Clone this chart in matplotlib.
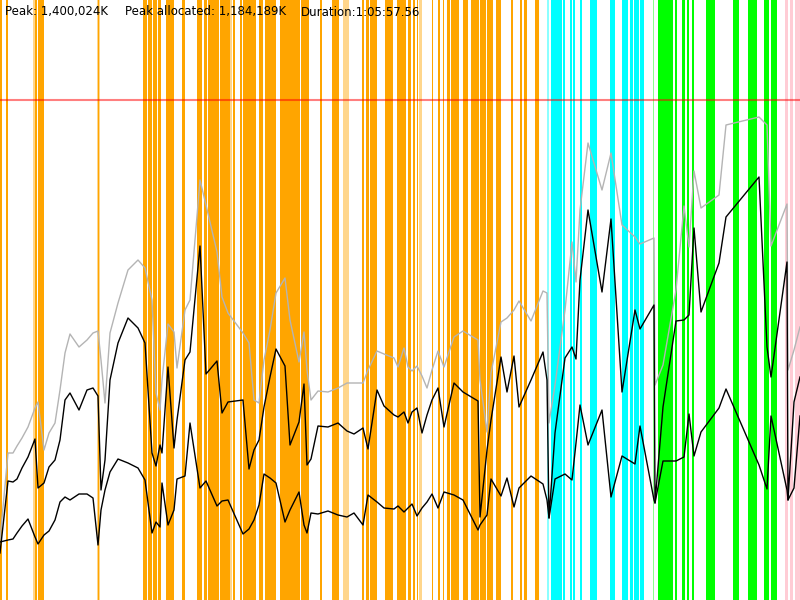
import matplotlib
matplotlib.use("Agg")
import matplotlib.pyplot as plt

# sample positions (screen x) and memory rows (screen y, 0 = top)
xs = [0, 8, 13, 17, 22, 28, 35, 38, 44, 49, 55, 60, 65, 70, 79, 87, 93, 98, 101, 105,
      110, 118, 128, 138, 145, 152, 156, 160, 162, 168, 174, 177, 185, 190, 200, 206,
      217, 222, 228, 243, 249, 254, 259, 264, 270, 276, 285, 290, 299, 304, 307, 311,
      318, 328, 338, 347, 354, 363, 368, 377, 384, 394, 398, 404, 408, 412, 417, 422,
      427, 432, 438, 444, 454, 463, 478, 480, 487, 491, 501, 507, 514, 519, 531, 543,
      547, 549, 555, 565, 572, 576, 580, 588, 602, 611, 622, 635, 640, 654, 655, 663,
      676, 684, 689, 694, 701, 719, 726, 759, 767, 771, 787, 788, 794, 800]

reserved = [540, 453, 453, 446, 438, 427, 408, 402, 450, 433, 423, 390, 353, 334, 347, 340, 333, 331, 360, 403,
            333, 303, 270, 260, 268, 300, 393, 410, 380, 324, 332, 368, 310, 300, 180, 205,
            252, 297, 313, 333, 343, 400, 403, 360, 330, 293, 278, 320, 362, 332, 370, 400,
            391, 392, 388, 383, 383, 383, 370, 351, 354, 358, 367, 348, 367, 371, 366, 376,
            388, 370, 351, 367, 337, 331, 340, 380, 432, 373, 322, 318, 310, 301, 321, 291,
            293, 423, 385, 310, 242, 282, 210, 143, 190, 153, 225, 237, 244, 238, 385, 365,
            290, 206, 247, 171, 208, 195, 125, 117, 125, 246, 204, 370, 350, 327]

allocated = [553, 481, 482, 479, 468, 457, 439, 488, 483, 467, 460, 440, 400, 393, 410, 390, 388, 396, 490, 460,
             380, 343, 318, 328, 343, 453, 466, 445, 453, 367, 448, 420, 360, 352, 246, 374,
             361, 413, 402, 400, 469, 450, 440, 407, 377, 349, 366, 445, 422, 384, 465, 459,
             426, 427, 423, 431, 434, 428, 449, 390, 406, 415, 417, 412, 423, 412, 408, 433,
             415, 400, 388, 427, 383, 392, 401, 517, 450, 420, 357, 392, 356, 407, 380, 352,
             380, 518, 433, 358, 347, 359, 280, 210, 292, 219, 392, 310, 329, 305, 503, 407,
             321, 320, 315, 228, 312, 263, 217, 177, 347, 377, 262, 500, 402, 377]

live = [542, 540, 539, 533, 526, 519, 537, 544, 535, 531, 520, 502, 497, 500, 494, 494, 498, 545, 510, 490,
        472, 459, 463, 468, 480, 533, 522, 527, 483, 525, 510, 479, 476, 423, 488, 481,
        506, 501, 500, 534, 529, 520, 505, 474, 478, 483, 522, 510, 492, 525, 533, 513,
        514, 511, 515, 517, 513, 525, 495, 502, 508, 509, 506, 512, 508, 504, 516, 508,
        502, 494, 508, 492, 495, 500, 530, 525, 515, 479, 496, 478, 507, 488, 476, 484,
        500, 518, 479, 474, 480, 443, 405, 445, 410, 497, 456, 464, 426, 500, 503, 461,
        461, 457, 414, 456, 432, 408, 389, 465, 489, 416, 490, 500, 488, 416]

peak_row = 100

orange_spans = [(0, 2), (6, 8), (34.7, 37.3), (37.7, 44), (98, 99), (142.7, 147), (147.7, 148.7),
                (149.3, 152), (153, 157.3), (158, 161.3), (165.7, 173.7), (181.7, 185), (197, 201.7),
                (204, 206.7), (207.7, 218.7), (220, 230), (232.7, 234.7), (240, 242), (242.7, 256),
                (259, 263), (264.7, 276), (280, 300), (301, 309), (320, 322), (332, 338.7),
                (362, 364.3), (365.7, 369), (370.3, 376.7), (385.3, 393.3), (397.3, 406),
                (408.3, 410.7), (413.3, 415.3), (416.7, 418), (432.3, 433.3), (438.3, 440),
                (442.7, 444), (447.3, 450), (450.7, 458.7), (462.7, 468), (471, 479), (480, 486),
                (486.7, 493.3), (496, 501), (510.7, 512.7), (520, 521.7), (523.7, 527), (535, 539.3)]
orange_faint = [(33.3, 34.7), (97.3, 99.7), (230.3, 232), (343.3, 348.7), (418.7, 422)]
cyan_spans = [(550.7, 562.3), (563.3, 565), (570, 572), (573.3, 575.3), (580, 581.7), (590, 596.7),
              (610, 615), (622.3, 628.3), (630, 632.7), (634, 638.7), (640, 643.7)]
cyan_faint = [(546.7, 548.7)]
green_spans = [(658, 673.3), (675.3, 677.3), (682, 685.3), (686.7, 689.3), (692, 694.3),
               (706, 715), (733.3, 738.7), (748.3, 756.7), (764, 769), (770.7, 776.7)]
green_faint = [(652.7, 654.3)]
pink_spans = [(785.3, 787.7), (790, 792.7), (795, 800)]

fig = plt.figure(figsize=(8, 6), dpi=100)
ax = fig.add_axes([0, 0, 1, 1])
ax.set_xlim(0, 800)
ax.set_ylim(600, 0)
ax.axis("off")

for spans, col, a in [(orange_faint, "#FFA500", 0.45), (orange_spans, "#FFA500", 1.0),
                      (cyan_faint, "#00FFFF", 0.45), (cyan_spans, "#00FFFF", 1.0),
                      (green_faint, "#00FF00", 0.45), (green_spans, "#00FF00", 1.0),
                      (pink_spans, "#FFC0CB", 0.8)]:
    for s, e in spans:
        ax.axvspan(s, e, color=col, alpha=a, lw=0, zorder=1)

ax.axhline(peak_row, color="red", alpha=0.5, lw=1.5, zorder=2)

ax.plot(xs, reserved, color="#B4B4B4", lw=1, zorder=3)
ax.plot(xs, allocated, color="black", lw=1, zorder=3)
ax.plot(xs, live, color="black", lw=1, zorder=3)

ax.text(5, 12, "Peak: 1,400,024K", fontsize=8.5, va="center", ha="left", zorder=4)
ax.text(125, 12, "Peak allocated: 1,184,189K", fontsize=8.5, va="center", ha="left", zorder=4)
ax.text(301, 12, "Duration:1:05:57.56", fontsize=8.5, va="center", ha="left", zorder=4)

fig.savefig("out.png", dpi=100)
